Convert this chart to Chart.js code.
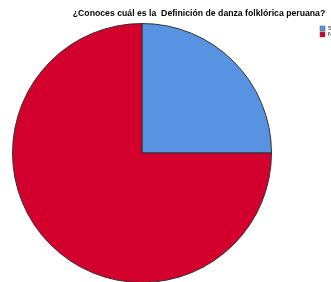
<!DOCTYPE html>
<html>
<head>
<meta charset="utf-8">
<script src="https://cdn.jsdelivr.net/npm/chart.js@4"></script>
<style>
  html, body { margin: 0; padding: 0; background: #fff; overflow: hidden; }
  #wrap { width: 331px; height: 282px; overflow: hidden; }
</style>
</head>
<body>
<div id="wrap"><canvas id="pieChart" width="331" height="300"></canvas></div>
<script>
  // datos
  const chartTitle = '¿Conoces cuál es la  Definición de danza folklórica peruana?';
  const categories = ['Sí', 'No'];
  const values = [25, 75];
  const colors = ['#5793E0', '#D3002E'];

  // titulo y leyenda dibujados a mano
  const extras = {
    id: 'extras',
    afterDraw(chart) {
      const ctx = chart.ctx;
      ctx.save();
      ctx.fillStyle = '#000';
      ctx.font = 'bold 8.7px "Liberation Sans", Arial, sans-serif';
      ctx.textAlign = 'center';
      ctx.textBaseline = 'middle';
      ctx.fillText(chartTitle, 199, 14);

      ctx.textAlign = 'left';
      ctx.font = '6px "Liberation Sans", Arial, sans-serif';
      categories.forEach((c, i) => {
        const y = 26 + i * 6;
        ctx.fillStyle = colors[i];
        ctx.fillRect(320, y, 5, 5);
        ctx.strokeStyle = '#555';
        ctx.lineWidth = 0.5;
        ctx.strokeRect(320, y, 5, 5);
        ctx.fillStyle = '#000';
        ctx.fillText(c, 328, y + 2.5);
      });
      ctx.restore();
    }
  };

  new Chart(document.getElementById('pieChart'), {
    type: 'pie',
    data: {
      labels: categories,
      datasets: [{
        data: values,
        backgroundColor: colors,
        borderColor: '#333',
        borderWidth: 1
      }]
    },
    options: {
      responsive: false,
      animation: false,
      layout: { padding: { top: 23, bottom: 17, left: 12, right: 59 } },
      plugins: {
        legend: { display: false },
        tooltip: { enabled: false }
      }
    },
    plugins: [extras]
  });
</script>
</body>
</html>
